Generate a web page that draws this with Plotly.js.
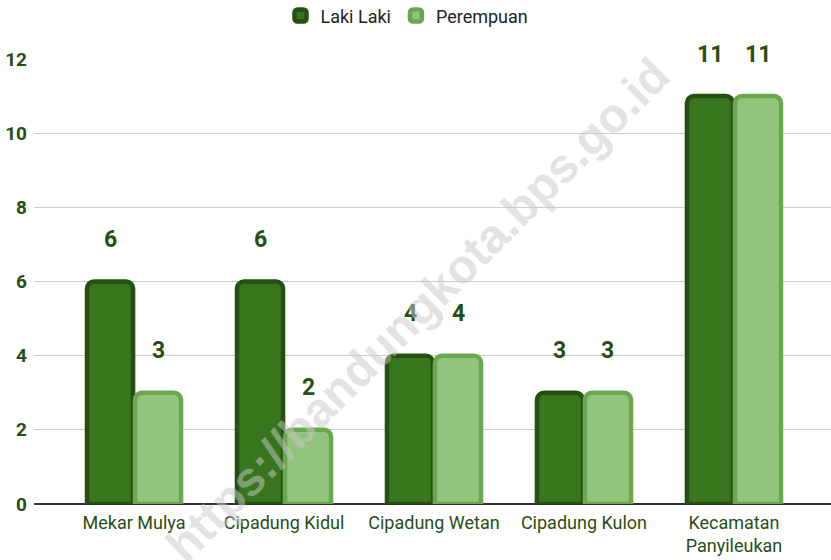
<!DOCTYPE html>
<html>
<head>
<meta charset="utf-8">
<script src="https://cdn.plot.ly/plotly-3.0.1.min.js"></script>
<style>html,body{margin:0;padding:0;background:#fff;}#chart{width:831px;height:560px;}</style>
</head>
<body>
<div id="chart"></div>
<script>
const categories = ["Mekar Mulya", "Cipadung Kidul", "Cipadung Wetan", "Cipadung Kulon", "Kecamatan<br>Panyileukan"];
const seriesNames = ["Laki Laki", "Perempuan"];
const lakiLaki = [6, 6, 4, 3, 11];
const perempuan = [3, 2, 4, 3, 11];
const yTicks = [0, 2, 4, 6, 8, 10, 12];
const watermark = "https://bandungkota.bps.go.id";

const fills = ["#38761d", "#93c47d"];
const borders = ["#274e13", "#6aa84f"];
const allSeries = [lakiLaki, perempuan];

const traces = allSeries.map((vals, i) => ({
  type: "bar",
  name: seriesNames[i],
  x: categories,
  y: vals,
  marker: {color: fills[i], line: {color: borders[i], width: 4.5}, cornerradius: 7},
  hoverinfo: "none"
}));

const annotations = [];
allSeries.forEach((vals, i) => {
  vals.forEach((v, j) => {
    annotations.push({
      x: categories[j], y: v, xref: "x", yref: "y",
      text: String(v), showarrow: false,
      xshift: i === 0 ? -24 : 24, yshift: 42,
      yanchor: "middle",
      font: {family: "Roboto, Arial, sans-serif", size: 23, color: "#274e13", weight: "bold"}
    });
  });
});
annotations.push({
  xref: "paper", yref: "paper", x: 0.482, y: 0.436,
  text: watermark, showarrow: false, textangle: -45,
  font: {family: "Arial, Liberation Sans, sans-serif", size: 48, color: "rgba(200,200,200,0.5)", weight: "bold"}
});

const layout = {
  width: 831, height: 560,
  margin: {l: 34, r: 0, t: 59, b: 56, autoexpand: false},
  paper_bgcolor: "#fff", plot_bgcolor: "#fff",
  font: {family: "Roboto, Arial, sans-serif"},
  barmode: "group",
  bargap: 0.36,
  bargroupgap: 0.04,
  showlegend: true,
  legend: {
    orientation: "h", x: 0.468, xanchor: "center",
    y: 1.097, yanchor: "middle",
    font: {size: 18, color: "#222"}
  },
  xaxis: {
    range: [-0.667, 4.647],
    tickfont: {size: 18, color: "#274e13"}, tickangle: 0,
    showgrid: false, showline: false, ticks: "", fixedrange: true,
    ticklabelstandoff: 6
  },
  yaxis: {
    range: [0, 12], tickvals: yTicks, ticktext: yTicks.map(String),
    tickfont: {size: 19, color: "#274e13", weight: "bold"},
    gridcolor: "#cccccc", gridwidth: 1,
    zeroline: true, zerolinecolor: "#333", zerolinewidth: 2,
    showline: false, ticks: "", ticklabelstandoff: 6, fixedrange: true
  },
  annotations: annotations
};

Plotly.newPlot("chart", traces, layout, {displayModeBar: false, staticPlot: true});
</script>
</body>
</html>
